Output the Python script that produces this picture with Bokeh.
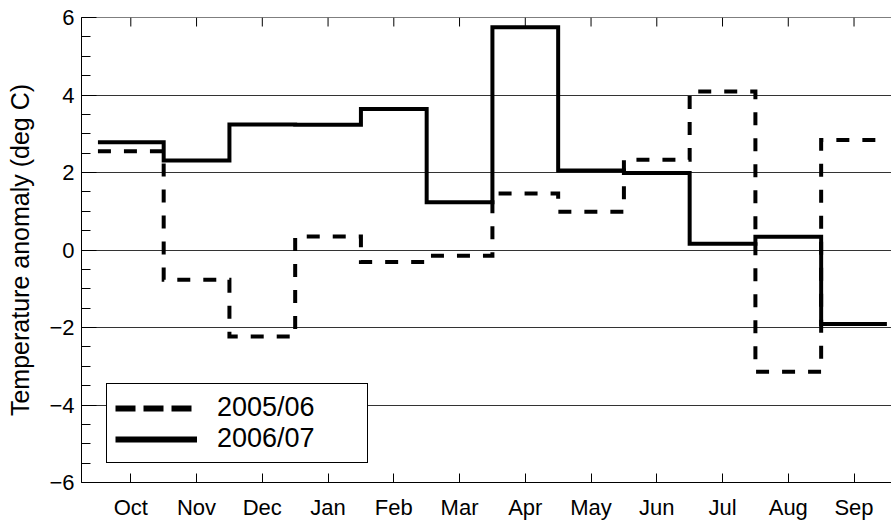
import numpy as np
from bokeh.plotting import figure
from bokeh.models import (FixedTicker, LinearAxis, Range1d, Legend, LegendItem,
                          ColumnDataSource, Span)
from bokeh.embed import file_html
from bokeh.resources import INLINE

# ---- data ----
months = ["Oct", "Nov", "Dec", "Jan", "Feb", "Mar", "Apr", "May", "Jun", "Jul", "Aug", "Sep"]
anom_2005_06 = [2.55, -0.77, -2.23, 0.35, -0.31, -0.15, 1.46, 0.99, 2.33, 4.09, -3.14, 2.84]
anom_2006_07 = [2.78, 2.31, 3.24, 3.23, 3.64, 1.23, 5.75, 2.05, 1.99, 0.16, 0.34, -1.91]
series_labels = ["2005/06", "2006/07"]
y_ticks = [-6, -4, -2, 0, 2, 4, 6]
y_grid = [-4, -2, 0, 2, 4]
y_minor_step = 0.5

FONT = "Liberation Sans"
TICK_SIZE = "22px"

idx = np.arange(1, len(months) + 1)
edges = np.append(idx - 0.5, idx[-1] + 0.5)
y_lo, y_hi = y_ticks[0], y_ticks[-1]


def ext(vals):
    return list(vals) + [vals[-1]]


p = figure(width=891, height=522,
           x_range=Range1d(0.25, 12.57), y_range=Range1d(y_lo, y_hi),
           output_backend="svg", toolbar_location=None,
           x_axis_location=None, y_axis_location=None,
           min_border_left=81, min_border_right=0,
           min_border_top=17, min_border_bottom=35)
p.outline_line_color = None
p.background_fill_color = "white"
p.border_fill_color = "white"

p.xgrid.visible = False
p.ygrid.ticker = FixedTicker(ticks=y_grid)
p.ygrid.grid_line_color = "#333333"
p.ygrid.grid_line_width = 1

minor = list(np.arange(y_lo, y_hi + 1e-9, y_minor_step))

left = LinearAxis(ticker=FixedTicker(ticks=y_ticks, minor_ticks=minor),
                  axis_label="Temperature anomaly (deg C)",
                  major_tick_in=15, major_tick_out=0,
                  minor_tick_in=9, minor_tick_out=0,
                  major_label_standoff=7, axis_label_standoff=12,
                  axis_line_color="black", major_tick_line_color="black",
                  minor_tick_line_color="black",
                  major_label_text_font=FONT, major_label_text_font_size=TICK_SIZE,
                  major_label_text_color="black",
                  axis_label_text_font=FONT, axis_label_text_font_size="25px",
                  axis_label_text_font_style="normal", axis_label_text_color="black")
p.add_layout(left, "left")

bottom = LinearAxis(ticker=FixedTicker(ticks=[int(i) for i in idx], minor_ticks=[]),
                    major_label_overrides={int(i): m for i, m in zip(idx, months)},
                    major_tick_in=9, major_tick_out=0,
                    minor_tick_in=0, minor_tick_out=0,
                    major_label_standoff=12,
                    axis_line_color="black", major_tick_line_color="black",
                    major_label_text_font=FONT, major_label_text_font_size=TICK_SIZE,
                    major_label_text_color="black")
p.add_layout(bottom, "below")

# top frame line with inward month ticks
p.add_layout(Span(location=y_hi, dimension="width", line_color="black", line_width=1))
p.ray(x=idx, y=[y_hi] * len(idx), length=9, length_units="screen",
      angle=-np.pi / 2, line_color="black", line_width=1)

# ---- step lines ----
p.step(edges, ext(anom_2005_06), mode="after", line_color="black",
       line_width=4, line_dash="13 13", line_cap="butt", line_join="miter")
p.step(edges, ext(anom_2006_07), mode="after", line_color="black",
       line_width=4, line_cap="butt", line_join="miter")

# ---- legend (renderers with no visible points carry the legend styling) ----
leg_src = ColumnDataSource(dict(x=[np.nan], y=[np.nan]))
r1 = p.line("x", "y", source=leg_src, line_color="black", line_width=6, line_dash="20 8")
r2 = p.line("x", "y", source=leg_src, line_color="black", line_width=6)
legend = Legend(items=[LegendItem(label=series_labels[0], renderers=[r1]),
                       LegendItem(label=series_labels[1], renderers=[r2])],
                location=(25, 19), orientation="vertical",
                border_line_color="black", border_line_width=1, border_line_alpha=1,
                background_fill_color="white", background_fill_alpha=1,
                label_text_font=FONT, label_text_font_size="27px",
                label_text_color="black",
                glyph_width=82, glyph_height=30, label_height=30,
                label_standoff=20, label_width=142,
                padding=8, spacing=0, margin=0)
p.add_layout(legend)

open("out.html", "w").write(file_html(p, INLINE))
